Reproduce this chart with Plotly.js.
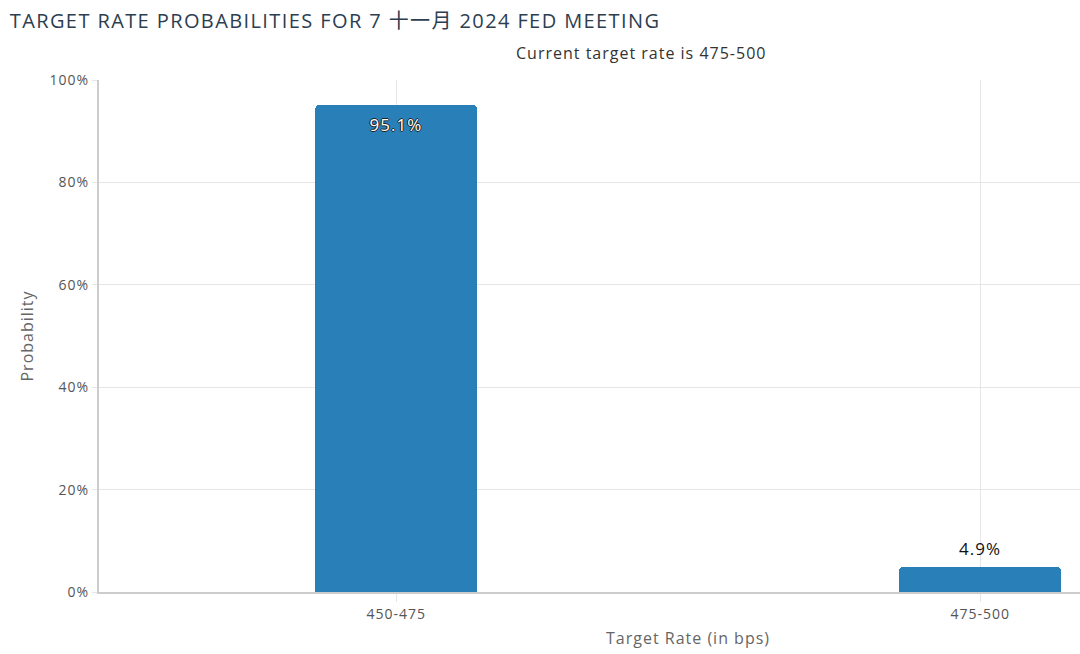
<!DOCTYPE html>
<html>
<head>
<meta charset="utf-8">
<script src="https://cdn.plot.ly/plotly-3.0.1.min.js"></script>
<style>
  body { margin: 0; background: #fff; }
  #myDiv { width: 1080px; height: 654px; }
  /* the original rendering is wider-set than any installed font */
  #myDiv text { letter-spacing: 1px; }
  #myDiv .gtitle { letter-spacing: 1.4px; }
</style>
</head>
<body>
<div id="myDiv"></div>
<script>
var rates = ['450-475', '475-500'];
var probs = [95.1, 4.9];
var labels = ['95.1%', '4.9%'];

var FONT = '"Open Sans", sans-serif';

var trace1 = {
  x: rates,
  y: probs,
  type: 'bar',
  width: 0.277,
  marker: {color: '#2980b9', cornerradius: 4},
  hoverinfo: 'none'
};

// value labels: first one sits inside the bar top, second above the bar
var notes = [
  {x: rates[0], y: probs[0], text: labels[0], yanchor: 'top', yshift: -6, showarrow: false,
   font: {family: FONT, size: 17, color: '#fff',
          shadow: '1px 0 0 #222, -1px 0 0 #222, 0 1px 0 #222, 0 -1px 0 #222'}},
  {x: rates[1], y: probs[1], text: labels[1], yanchor: 'bottom', yshift: 5, showarrow: false,
   font: {family: FONT, size: 17, color: '#111'}},
  {xref: 'paper', yref: 'paper', x: 0.553, y: 1, yanchor: 'bottom', yshift: 14,
   text: 'Current target rate is 475-500', showarrow: false,
   font: {family: FONT, size: 16, color: '#333'}},
  {xref: 'paper', yref: 'paper', x: 0.6, y: 0, yanchor: 'top', yshift: -33,
   text: 'Target Rate (in bps)', showarrow: false,
   font: {family: FONT, size: 16, color: '#666'}}
];

var layout = {
  width: 1080,
  height: 654,
  margin: {l: 99, r: 0, t: 80, b: 62},
  paper_bgcolor: '#fff',
  plot_bgcolor: '#fff',
  font: {family: FONT, color: '#555'},
  title: {
    text: 'TARGET RATE PROBABILITIES FOR 7 十一月 2024 FED MEETING',
    x: 0.009, xanchor: 'left', y: 0.968, yanchor: 'middle',
    font: {family: '"Open Sans", "Noto Sans CJK SC", sans-serif', size: 20, color: '#2c3e50'}
  },
  showlegend: false,
  bargap: 0,
  xaxis: {
    type: 'category',
    range: [-0.509, 1.171],
    showgrid: true,
    gridcolor: '#e6e6e6',
    showline: true,
    linecolor: '#ccc',
    linewidth: 2,
    ticks: 'outside',
    ticklen: 8,
    tickcolor: '#e6e6e6',
    tickfont: {size: 14, color: '#555'},
    zeroline: false
  },
  yaxis: {
    range: [0, 100],
    dtick: 20,
    ticksuffix: '%',
    showgrid: true,
    gridcolor: '#e6e6e6',
    showline: true,
    linecolor: '#ccc',
    linewidth: 2,
    ticks: 'outside',
    ticklen: 5,
    tickcolor: '#e6e6e6',
    tickfont: {size: 14, color: '#555'},
    zeroline: false,
    title: {text: 'Probability', standoff: 16, font: {size: 16, color: '#666'}}
  },
  annotations: notes
};

Plotly.newPlot('myDiv', [trace1], layout, {displayModeBar: false, staticPlot: true});
</script>
</body>
</html>
